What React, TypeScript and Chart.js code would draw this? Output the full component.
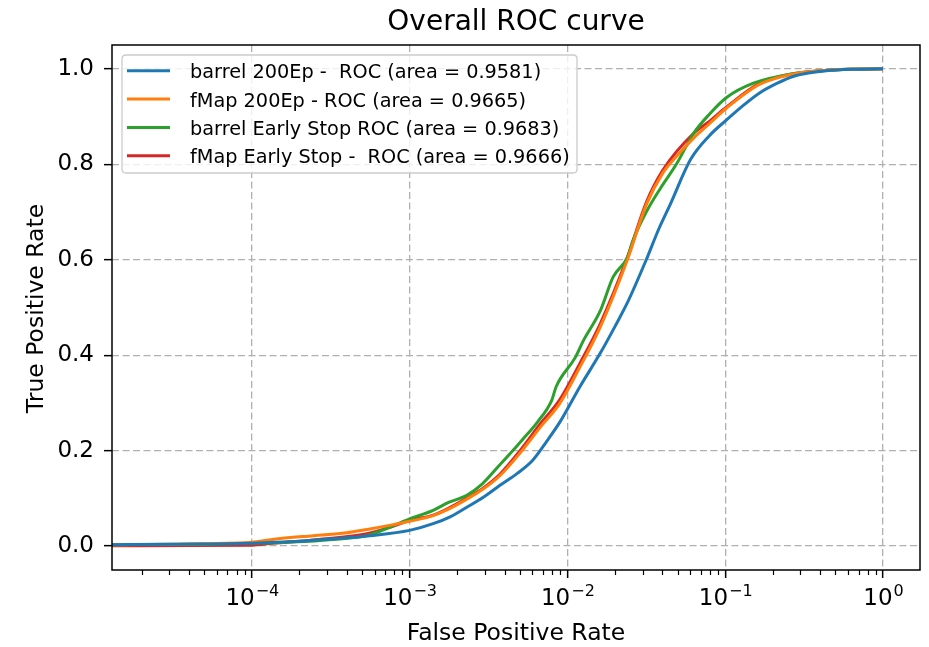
import React, { useEffect, useRef } from "react";
import { Chart, registerables } from "chart.js";

Chart.register(...registerables);

const W = 929;
const H = 647;

// ---- data ----
const chartTitle = "Overall ROC curve";
const xAxisLabel = "False Positive Rate";
const yAxisLabel = "True Positive Rate";

const xMin = 1.3e-5;
const xMax = 1.716;
const yMin = -0.05;
const yMax = 1.05;

const xTickValues = [1e-4, 1e-3, 1e-2, 1e-1, 1e0];
const yTickValues = [0, 0.2, 0.4, 0.6, 0.8, 1.0];

const seriesLabels = [
  "barrel 200Ep -  ROC (area = 0.9581)",
  "fMap 200Ep - ROC (area = 0.9665)",
  "barrel Early Stop ROC (area = 0.9683)",
  "fMap Early Stop -  ROC (area = 0.9666)",
];
const seriesColors = ["#1f77b4", "#ff7f0e", "#2ca02c", "#d62728"];

const barrel200Fpr = [1.25e-5, 3.16e-5, 1.0e-4, 2.0e-4, 3.16e-4, 5.62e-4, 1.0e-3, 1.41e-3, 1.82e-3, 2.29e-3, 2.95e-3, 3.72e-3, 4.79e-3, 6.03e-3, 7.41e-3, 9.12e-3, 1.2e-2, 1.62e-2, 2.0e-2, 2.4e-2, 3.16e-2, 3.8e-2, 4.47e-2, 6.03e-2, 7.94e-2, 0.102, 0.132, 0.166, 0.214, 0.269, 0.347, 0.437, 0.631, 1.0];
const barrel200Tpr = [0.003, 0.004, 0.006, 0.010, 0.015, 0.022, 0.033, 0.047, 0.062, 0.081, 0.103, 0.127, 0.152, 0.18, 0.22, 0.264, 0.334, 0.405, 0.46, 0.51, 0.60, 0.665, 0.715, 0.81, 0.86, 0.893, 0.925, 0.95, 0.97, 0.984, 0.992, 0.996, 0.999, 1.0];

const fmap200Fpr = [1.25e-5, 5.0e-5, 1.0e-4, 1.35e-4, 2.45e-4, 3.98e-4, 5.37e-4, 7.59e-4, 1.0e-3, 1.41e-3, 1.78e-3, 2.29e-3, 2.88e-3, 3.72e-3, 5.01e-3, 6.76e-3, 8.91e-3, 1.2e-2, 1.62e-2, 2.4e-2, 3.16e-2, 4.03e-2, 5.01e-2, 6.31e-2, 7.94e-2, 0.102, 0.166, 0.269, 0.501, 1.0];
const fmap200Tpr = [0.003, 0.005, 0.008, 0.014, 0.022, 0.028, 0.035, 0.044, 0.052, 0.064, 0.078, 0.098, 0.118, 0.147, 0.195, 0.25, 0.298, 0.375, 0.46, 0.60, 0.715, 0.782, 0.82, 0.855, 0.885, 0.918, 0.968, 0.989, 0.998, 1.0];

const barrelEsFpr = [1.25e-5, 5.0e-5, 1.0e-4, 2.5e-4, 3.24e-4, 5.37e-4, 1.0e-3, 1.41e-3, 1.78e-3, 2.29e-3, 2.88e-3, 3.72e-3, 4.79e-3, 5.25e-3, 6.46e-3, 7.94e-3, 8.51e-3, 1.12e-2, 1.26e-2, 1.62e-2, 1.95e-2, 2.4e-2, 2.6e-2, 3.16e-2, 3.89e-2, 4.9e-2, 6.31e-2, 7.94e-2, 0.102, 0.151, 0.269, 0.501, 1.0];
const barrelEsTpr = [0.003, 0.004, 0.006, 0.011, 0.014, 0.022, 0.057, 0.075, 0.092, 0.106, 0.13, 0.17, 0.21, 0.225, 0.26, 0.305, 0.335, 0.395, 0.43, 0.494, 0.564, 0.605, 0.64, 0.70, 0.75, 0.80, 0.865, 0.905, 0.94, 0.97, 0.99, 0.998, 1.0];

const fmapEsFpr = [1.25e-5, 1.0e-4, 1.35e-4, 2.45e-4, 5.37e-4, 7.59e-4, 1.0e-3, 1.41e-3, 1.78e-3, 2.29e-3, 2.88e-3, 3.72e-3, 5.01e-3, 6.76e-3, 8.91e-3, 1.2e-2, 1.62e-2, 2.4e-2, 3.16e-2, 4.03e-2, 6.31e-2, 7.94e-2, 0.102, 0.166, 0.269, 0.501, 1.0];
const fmapEsTpr = [0.001, 0.002, 0.006, 0.013, 0.026, 0.04, 0.054, 0.065, 0.08, 0.10, 0.12, 0.15, 0.20, 0.257, 0.306, 0.383, 0.467, 0.605, 0.72, 0.788, 0.865, 0.89, 0.92, 0.97, 0.99, 0.998, 1.0];

const seriesFpr = [barrel200Fpr, fmap200Fpr, barrelEsFpr, fmapEsFpr];
const seriesTpr = [barrel200Tpr, fmap200Tpr, barrelEsTpr, fmapEsTpr];

const FONT = '"DejaVu Sans", "Liberation Sans", sans-serif';

const decorPlugin = {
  id: "decor",
  beforeDraw(chart: any) {
    const ctx = chart.ctx;
    ctx.save();
    ctx.fillStyle = "#ffffff";
    ctx.fillRect(0, 0, chart.width, chart.height);
    ctx.restore();
  },
  afterDraw(chart: any) {
    const ctx = chart.ctx as CanvasRenderingContext2D;
    const area = chart.chartArea;
    const xs = chart.scales.x;
    const cx = (area.left + area.right) / 2;
    const cy = (area.top + area.bottom) / 2;
    ctx.save();

    // frame
    ctx.strokeStyle = "#000";
    ctx.lineWidth = 1.5;
    ctx.strokeRect(area.left, area.top, area.right - area.left, area.bottom - area.top);

    // minor ticks on log axis
    ctx.lineWidth = 1.2;
    ctx.beginPath();
    for (let e = -6; e <= 1; e++) {
      for (let k = 2; k <= 9; k++) {
        const v = k * Math.pow(10, e);
        if (v <= xMin || v >= xMax) continue;
        const px = Math.round(xs.getPixelForValue(v)) + 0.5;
        ctx.moveTo(px, area.bottom);
        ctx.lineTo(px, area.bottom + 5);
      }
    }
    ctx.stroke();

    // x tick labels 10^n
    ctx.fillStyle = "#000";
    ctx.textBaseline = "alphabetic";
    ctx.textAlign = "left";
    for (const v of xTickValues) {
      const e = Math.round(Math.log10(v));
      const base = "10";
      const exp = e < 0 ? "\u2212" + String(-e) : String(e);
      ctx.font = `23px ${FONT}`;
      const wb = ctx.measureText(base).width;
      ctx.font = `16px ${FONT}`;
      const we = ctx.measureText(exp).width;
      const px = xs.getPixelForValue(v);
      const x0 = px - (wb + we) / 2;
      ctx.font = `23px ${FONT}`;
      ctx.fillText(base, x0, 605);
      ctx.font = `16px ${FONT}`;
      ctx.fillText(exp, x0 + wb + 1, 596);
    }

    // title
    ctx.textAlign = "center";
    ctx.font = `28px ${FONT}`;
    ctx.fillText(chartTitle, cx, 30);

    // x label
    ctx.font = `23.5px ${FONT}`;
    ctx.fillText(xAxisLabel, cx, 640);

    // y label
    ctx.save();
    ctx.translate(43, cy + 1);
    ctx.rotate(-Math.PI / 2);
    ctx.fillText(yAxisLabel, 0, 0);
    ctx.restore();

    // legend
    const lx = 122, ly = 55, lw = 455, lh = 118, r = 4;
    ctx.beginPath();
    ctx.moveTo(lx + r, ly);
    ctx.lineTo(lx + lw - r, ly);
    ctx.quadraticCurveTo(lx + lw, ly, lx + lw, ly + r);
    ctx.lineTo(lx + lw, ly + lh - r);
    ctx.quadraticCurveTo(lx + lw, ly + lh, lx + lw - r, ly + lh);
    ctx.lineTo(lx + r, ly + lh);
    ctx.quadraticCurveTo(lx, ly + lh, lx, ly + lh - r);
    ctx.lineTo(lx, ly + r);
    ctx.quadraticCurveTo(lx, ly, lx + r, ly);
    ctx.closePath();
    ctx.fillStyle = "rgba(255,255,255,0.8)";
    ctx.fill();
    ctx.strokeStyle = "#cccccc";
    ctx.lineWidth = 1.3;
    ctx.stroke();

    ctx.textAlign = "left";
    ctx.font = `19.3px ${FONT}`;
    chart.data.datasets.forEach((ds: any, i: number) => {
      const rowY = 70.7 + i * 28.35;
      ctx.strokeStyle = ds.borderColor;
      ctx.lineWidth = 3;
      ctx.beginPath();
      ctx.moveTo(127, rowY);
      ctx.lineTo(170, rowY);
      ctx.stroke();
      ctx.fillStyle = "#000";
      ctx.fillText(ds.label, 190, rowY + 7.6);
    });

    ctx.restore();
  },
};

export default function App() {
  const ref = useRef<HTMLCanvasElement | null>(null);

  useEffect(() => {
    const canvas = ref.current;
    if (!canvas) return;
    const datasets = seriesLabels.map((label, i) => ({
      label,
      data: seriesFpr[i].map((x, j) => ({ x, y: seriesTpr[i][j] })),
      borderColor: seriesColors[i],
      backgroundColor: seriesColors[i],
      borderWidth: 3,
      pointRadius: 0,
      pointHoverRadius: 0,
      cubicInterpolationMode: "monotone" as const,
      fill: false,
    }));

    const gridCommon = {
      color: "#b0b0b0",
      lineWidth: 1.3,
      drawTicks: true,
      tickLength: 8,
      tickColor: "#000",
      tickWidth: 1.5,
    };

    const chart = new Chart(canvas, {
      type: "line",
      data: { datasets },
      options: {
        responsive: false,
        animation: false,
        devicePixelRatio: 1,
        layout: { padding: { top: 45, right: 9, left: 0, bottom: 0 } },
        plugins: {
          legend: { display: false },
          title: { display: false },
          tooltip: { enabled: false },
        },
        scales: {
          x: {
            type: "logarithmic",
            min: xMin,
            max: xMax,
            afterBuildTicks: (s: any) => {
              s.ticks = xTickValues.map((v) => ({ value: v }));
            },
            afterFit: (s: any) => {
              s.height = 77;
            },
            ticks: { display: false },
            grid: gridCommon,
            border: { display: false, dash: [7, 3.5] },
          },
          y: {
            type: "linear",
            min: yMin,
            max: yMax,
            afterBuildTicks: (s: any) => {
              s.ticks = yTickValues.map((v) => ({ value: v }));
            },
            afterFit: (s: any) => {
              s.width = 112;
            },
            ticks: {
              color: "#000",
              padding: 10,
              font: { family: FONT, size: 23 },
              callback: (v: any) => Number(v).toFixed(1),
            },
            grid: gridCommon,
            border: { display: false, dash: [7, 3.5] },
          },
        },
      } as any,
      plugins: [decorPlugin],
    });
    return () => chart.destroy();
  }, []);

  return (
    <div style={{ position: "absolute", left: 0, top: 0, width: W, height: H, background: "#fff" }}>
      <canvas ref={ref} width={W} height={H} style={{ display: "block", width: W, height: H }} />
    </div>
  );
}
